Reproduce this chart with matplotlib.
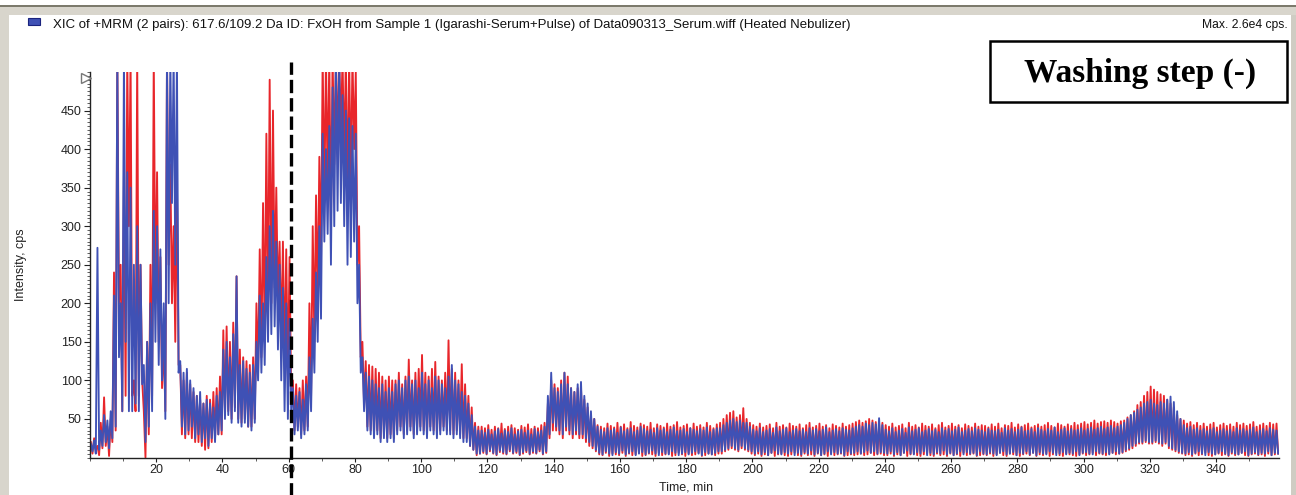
import numpy as np
import matplotlib
matplotlib.use("Agg")
import matplotlib.pyplot as plt
from matplotlib.patches import Rectangle
from matplotlib.ticker import MultipleLocator

# ---------------- data -------------------------------------------------------------
# Per-minute envelope readings (cps) of each trace, minute i covers [i, i+1) min.
# *_hi = upper excursion of the trace in that minute, *_lo = lower excursion.
blue_hi = (
    [18, 22, 272, 35, 55, 48, 60, 210]
    + [520, 200, 520, 370, 350, 250, 300, 250, 120, 150, 200, 320, 300, 270, 200, 520, 520, 520, 520]
    + [125, 110, 115, 100, 90, 80, 85, 70, 75, 70, 65, 80, 85]
    + [140, 150, 130, 160, 235, 120, 125, 115, 110, 120]
    + [150, 210, 200, 260, 300, 320, 280, 250, 220, 200, 180]
    + [90, 80, 85, 75, 95]
    + [130, 180, 240, 300]
    + [420, 400, 430, 480, 520, 520, 470, 450, 440, 430]
    + [420, 250, 130]
    + [110, 105, 100, 95, 90, 95, 85, 90, 85]
    + [95, 100, 90, 100, 105, 95, 100, 90, 110, 95,
       100, 90, 105, 100, 95, 90, 105, 120, 100, 95, 85]
    + [80, 70, 55, 40, 35]
    + [35, 32, 36, 30, 34, 37, 31, 35, 33, 38,
       30, 34, 36, 32, 35, 30, 37, 33, 35, 40]
    + [80, 110, 90, 85, 95, 110, 95, 90, 85, 95, 98, 80, 70, 60, 50]
    + [40, 36, 33, 38, 35, 37, 32, 39, 34, 36,
       38, 33, 35, 40, 37, 34, 36, 32, 38, 35,
       37, 33, 36, 39, 34, 35, 37, 33, 38, 36,
       34, 37, 35, 39, 33, 36, 38]
    + [38, 42, 45, 48, 50, 46, 48, 45, 45, 40]
    + [36, 34, 38, 33, 35, 37, 32, 39, 34, 36,
       38, 33, 35, 37, 34, 36, 33, 38, 35, 37,
       34, 36, 39, 33, 35, 37, 34, 38, 36, 35]
    + [38, 40, 42, 40, 44, 42, 45, 43, 51, 42]
    + [36, 34, 38, 33, 35, 37, 32, 39, 34, 36,
       38, 33, 35, 37, 34, 36, 33, 38, 35, 37,
       34, 36, 39, 33, 35, 37, 34, 38, 36, 35,
       33, 37, 35, 34, 36, 32, 38, 35, 37, 33,
       36, 39, 34, 35, 37, 33, 38, 36, 34, 37,
       35, 39, 33, 36, 38, 34, 37, 35, 36, 38,
       35, 37, 39, 36, 38, 40, 37, 39, 41, 38,
       40, 42]
    + [45, 50, 55, 58, 62, 65, 70, 72, 75, 70, 68, 72, 70, 75, 79, 72, 60, 50]
    + [42, 38, 40, 36, 38, 35, 37, 34, 36, 38,
       33, 35, 37, 34, 36, 33, 38, 35, 37, 34,
       36, 39, 33, 35, 37, 34, 38, 36, 35]
)

blue_lo = (
    [8, 5, 10, 15, 20, 12, 25, 40]
    + [130, 60, 150, 60, 60, 70, 60, 95, 20, 40, 60, 150, 120, 100, 50, 200, 330, 250, 110]
    + [40, 30, 35, 40, 25, 30, 20, 25, 15, 25, 20, 30, 35]
    + [50, 55, 45, 60, 45, 40, 45, 40, 35, 45]
    + [100, 110, 120, 150, 160, 170, 140, 100, 60, 50, 60]
    + [30, 35, 25, 30, 35]
    + [60, 110, 150, 180]
    + [280, 290, 250, 300, 320, 330, 300, 250, 260, 280]
    + [200, 110, 60]
    + [35, 30, 25, 30, 20, 25, 20, 25, 20]
    + [30, 35, 25, 30, 35, 25, 30, 35, 30, 25,
       35, 30, 25, 30, 35, 30, 30, 25, 30, 25, 20]
    + [20, 15, 10, 5, 5]
    + [8, 5, 10, 6, 4, 9, 7, 5, 10, 6,
       8, 4, 7, 9, 5, 8, 6, 10, 5, 8]
    + [30, 45, 40, 35, 30, 40, 35, 30, 35, 30, 30, 25, 20, 15, 10]
    + [6, 4, 8, 5, 3, 7, 5, 9, 4, 6,
       8, 3, 5, 7, 4, 6, 9, 5, 3, 7,
       5, 4, 8, 6, 3, 5, 7, 4, 6, 8,
       5, 3, 7, 5, 4, 6, 8]
    + [8, 10, 12, 15, 12, 10, 15, 12, 10, 8]
    + [5, 8, 4, 7, 3, 6, 9, 5, 4, 7,
       5, 8, 3, 6, 4, 7, 5, 9, 4, 6,
       3, 5, 8, 4, 7, 5, 6, 3, 8, 5]
    + [6, 8, 5, 7, 9, 6, 8, 5, 7, 6]
    + [5, 8, 4, 7, 3, 6, 9, 5, 4, 7,
       5, 8, 3, 6, 4, 7, 5, 9, 4, 6,
       3, 5, 8, 4, 7, 5, 6, 3, 8, 5,
       4, 7, 5, 3, 6, 8, 4, 5, 7, 3,
       6, 5, 8, 4, 6, 3, 7, 5, 4, 8,
       6, 3, 5, 7, 4, 6, 5, 8, 3, 6,
       7, 5, 4, 8, 6, 5, 7, 4, 6, 8,
       5, 7]
    + [10, 12, 15, 18, 20, 20, 22, 20, 20, 22, 20, 18, 20, 15, 12, 10, 8, 6]
    + [5, 7, 4, 6, 8, 5, 3, 7, 5, 4,
       6, 8, 5, 3, 7, 5, 4, 6, 8, 3,
       5, 7, 4, 6, 5, 8, 3, 6, 5]
)

red_hi = (
    [20, 25, 15, 45, 78, 40, 50, 240]
    + [520, 250, 370, 520, 520, 100, 520, 250, 60, 150, 250, 520, 370, 260, 150, 520, 380, 300, 360]
    + [120, 100, 110, 95, 85, 80, 75, 70, 80, 75, 85, 90, 105]
    + [165, 170, 150, 175, 235, 140, 130, 125, 120, 130]
    + [200, 270, 330, 420, 490, 450, 350, 280, 280, 270, 260]
    + [100, 95, 90, 100, 105]
    + [200, 300, 340, 390]
    + [520, 520, 520, 520, 520, 520, 520, 520, 520, 520]
    + [500, 300, 150]
    + [125, 120, 118, 115, 110, 105, 100, 105, 100]
    + [100, 110, 95, 105, 127, 100, 110, 115, 133, 110,
       105, 115, 124, 105, 100, 110, 152, 115, 110, 100, 121]
    + [95, 80, 65, 45, 40]
    + [40, 38, 42, 36, 40, 38, 44, 37, 40, 42,
       38, 36, 41, 39, 43, 37, 40, 38, 42, 45]
    + [70, 100, 95, 90, 100, 110, 105, 90, 85, 90, 90, 75, 65, 55, 50]
    + [42, 40, 38, 44, 41, 39, 45, 40, 43, 38,
       46, 41, 39, 44, 42, 40, 45, 38, 43, 41,
       39, 44, 40, 42, 46, 39, 41, 43, 38, 44,
       40, 42, 39, 45, 41, 38, 43]
    + [45, 50, 55, 58, 60, 52, 55, 64, 50, 45]
    + [42, 40, 44, 39, 41, 43, 38, 45, 40, 42,
       39, 44, 41, 40, 43, 38, 42, 45, 39, 41,
       44, 40, 42, 38, 43, 41, 39, 44, 40, 42]
    + [44, 46, 48, 45, 47, 50, 48, 46, 44, 45]
    + [42, 40, 44, 39, 41, 43, 38, 45, 40, 42,
       39, 44, 41, 40, 43, 38, 42, 45, 39, 41,
       44, 40, 42, 38, 43, 41, 39, 44, 40, 42,
       41, 39, 43, 40, 44, 38, 42, 41, 45, 39,
       43, 40, 42, 44, 39, 41, 43, 40, 42, 45,
       41, 39, 44, 42, 40, 43, 41, 45, 42, 44,
       46, 43, 45, 48, 44, 46, 47, 45, 48, 46,
       44, 47]
    + [48, 52, 55, 60, 68, 72, 80, 85, 92, 88, 85, 82, 80, 75, 70, 65, 55, 50]
    + [48, 44, 46, 42, 45, 41, 44, 40, 43, 45,
       39, 42, 44, 41, 43, 40, 45, 42, 44, 41,
       43, 46, 40, 42, 44, 41, 45, 43, 44]
)

red_lo = (
    [5, 10, 3, 12, 15, 2, 20, 35]
    + [200, 60, 80, 300, 80, 60, 80, 100, 0, 30, 80, 200, 150, 90, 60, 250, 200, 150, 120]
    + [30, 25, 30, 25, 20, 20, 15, 10, 12, 20, 25, 30, 30]
    + [55, 60, 50, 65, 50, 45, 50, 40, 40, 50]
    + [110, 130, 150, 180, 200, 220, 200, 150, 120, 100, 80]
    + [35, 40, 30, 35, 40]
    + [80, 150, 200, 250]
    + [330, 350, 300, 380, 400, 420, 380, 330, 350, 400]
    + [250, 130, 70]
    + [40, 35, 30, 35, 25, 30, 25, 30, 25]
    + [35, 40, 30, 35, 40, 30, 35, 40, 35, 30,
       40, 35, 30, 35, 40, 35, 35, 30, 35, 30, 25]
    + [25, 15, 10, 3, 5]
    + [6, 4, 8, 5, 3, 7, 5, 4, 8, 5,
       6, 3, 5, 7, 4, 6, 5, 8, 4, 6]
    + [25, 35, 35, 30, 25, 35, 30, 25, 30, 25, 25, 20, 15, 12, 8]
    + [4, 3, 6, 2, 5, 4, 3, 6, 2, 5,
       3, 4, 6, 2, 3, 5, 4, 2, 6, 3,
       4, 5, 2, 3, 6, 4, 2, 5, 3, 4,
       6, 2, 3, 5, 4, 3, 5]
    + [5, 8, 10, 12, 10, 8, 12, 10, 8, 5]
    + [3, 5, 2, 4, 3, 6, 2, 4, 5, 3,
       2, 4, 6, 3, 2, 5, 3, 4, 2, 5,
       3, 4, 2, 6, 3, 4, 5, 2, 3, 4]
    + [3, 4, 5, 3, 4, 6, 3, 4, 5, 3]
    + [3, 5, 2, 4, 3, 6, 2, 4, 5, 3,
       2, 4, 6, 3, 2, 5, 3, 4, 2, 5,
       3, 4, 2, 6, 3, 4, 5, 2, 3, 4,
       3, 5, 2, 4, 6, 3, 2, 5, 4, 3,
       2, 4, 5, 3, 6, 2, 4, 3, 5, 2,
       4, 6, 3, 2, 5, 4, 3, 2, 4, 5,
       3, 4, 6, 3, 5, 4, 3, 5, 6, 4,
       5, 6]
    + [8, 10, 12, 15, 18, 18, 20, 18, 18, 20, 18, 15, 18, 12, 10, 8, 6, 5]
    + [3, 4, 2, 5, 3, 4, 6, 3, 2, 4,
       5, 3, 4, 2, 5, 3, 4, 6, 3, 2,
       4, 5, 3, 4, 2, 5, 3, 4, 5]
)

x_ticks = list(range(20, 341, 20))
y_ticks = list(range(50, 451, 50))
washing_time = 60.8

header = ("XIC of +MRM (2 pairs): 617.6/109.2 Da ID: FxOH from Sample 1 "
          "(Igarashi-Serum+Pulse) of Data090313_Serum.wiff (Heated Nebulizer)")
max_text = "Max. 2.6e4 cps."
box_text = "Washing step (-)"


def trace(hi, lo):
    """Interleave the per-minute upper / lower readings into one polyline."""
    n = min(len(hi), len(lo))
    minute = np.arange(n)
    t = np.empty(2 * n)
    y = np.empty(2 * n)
    t[0::2] = minute + 0.25
    t[1::2] = minute + 0.75
    y[0::2] = hi[:n]
    y[1::2] = lo[:n]
    return t, y


t_red, y_red = trace(red_hi, red_lo)
t_blue, y_blue = trace(blue_hi, blue_lo)

# ---------------- figure ----------------
plt.rcParams['font.family'] = ['Liberation Sans', 'DejaVu Sans']
W, H = 1296, 495
fig = plt.figure(figsize=(W / 100, H / 100), dpi=100)
fig.patch.set_facecolor('white')


def frect(x0, y0, x1, y1, **kw):
    fig.add_artist(Rectangle((x0 / W, 1 - y1 / H), (x1 - x0) / W, (y1 - y0) / H,
                             transform=fig.transFigure, **kw))


# window frame
frect(0, 5, W, 7, facecolor='#7c7a6c', edgecolor='none')
frect(0, 7, W, 15, facecolor='#d8d5cc', edgecolor='none')
frect(0, 15, 9, H, facecolor='#d8d5cc', edgecolor='none')
frect(1291, 15, W, H, facecolor='#cfccc3', edgecolor='none')

ax = fig.add_axes([90 / W, 1 - 457.5 / H, 1189 / W, 385.5 / H])
ax.plot(t_red, y_red, color='#e8262b', lw=1.35, zorder=2)
ax.plot(t_blue, y_blue, color='#3f51b5', lw=1.35, zorder=3)
ax.set_xlim(0, 359)
ax.set_ylim(0, 500)

for s in ['top', 'right']:
    ax.spines[s].set_visible(False)
for s in ['left', 'bottom']:
    ax.spines[s].set_color('#222222')
    ax.spines[s].set_linewidth(1.0)
    ax.spines[s].set_zorder(4)

ax.set_xticks(x_ticks)
ax.set_yticks(y_ticks)
ax.xaxis.set_minor_locator(MultipleLocator(10))
ax.yaxis.set_minor_locator(MultipleLocator(5))
ax.tick_params(which='major', direction='out', length=4, width=0.8,
               colors='#222222', labelsize=9, pad=2)
ax.tick_params(which='minor', direction='out', length=2, width=0.6, colors='#444444')
ax.tick_params(axis='x', which='major', length=3)

# little triangle at top of y axis
ax.plot([-0.003], [0.985], marker='>', markersize=7, markerfacecolor='white',
        markeredgecolor='#777777', transform=ax.transAxes, clip_on=False, zorder=6)

# washing line
ax.axvline(washing_time, ymin=-0.1, ymax=1.027, clip_on=False, color='black',
           lw=2.4, ls=(0, (4, 1.5)), zorder=7)

fig.text(21 / W, 1 - 265 / H, 'Intensity, cps', rotation=90, ha='center',
         va='center', fontsize=9, color='#222222')
fig.text(686 / W, 1 - 487 / H, 'Time, min', ha='center', va='center',
         fontsize=9, color='#222222')

# header
frect(28, 18, 40, 25, facecolor='#3f51b5', edgecolor='#1a237e', lw=0.8)
fig.text(53 / W, 1 - 25 / H, header, ha='left', va='center', fontsize=9.5, color='#111111')
fig.text(1288 / W, 1 - 25 / H, max_text, ha='right', va='center', fontsize=8.7,
         color='#111111')

# annotation box
frect(990, 40.7, 1287, 101.7, facecolor='white', edgecolor='black', lw=1.8, zorder=10)
fig.text(1140 / W, 1 - 73 / H, box_text, ha='center', va='center',
         family=['Liberation Serif', 'DejaVu Serif'], weight='bold', fontsize=24,
         color='black', zorder=11)

fig.savefig('out.png', dpi=100)
